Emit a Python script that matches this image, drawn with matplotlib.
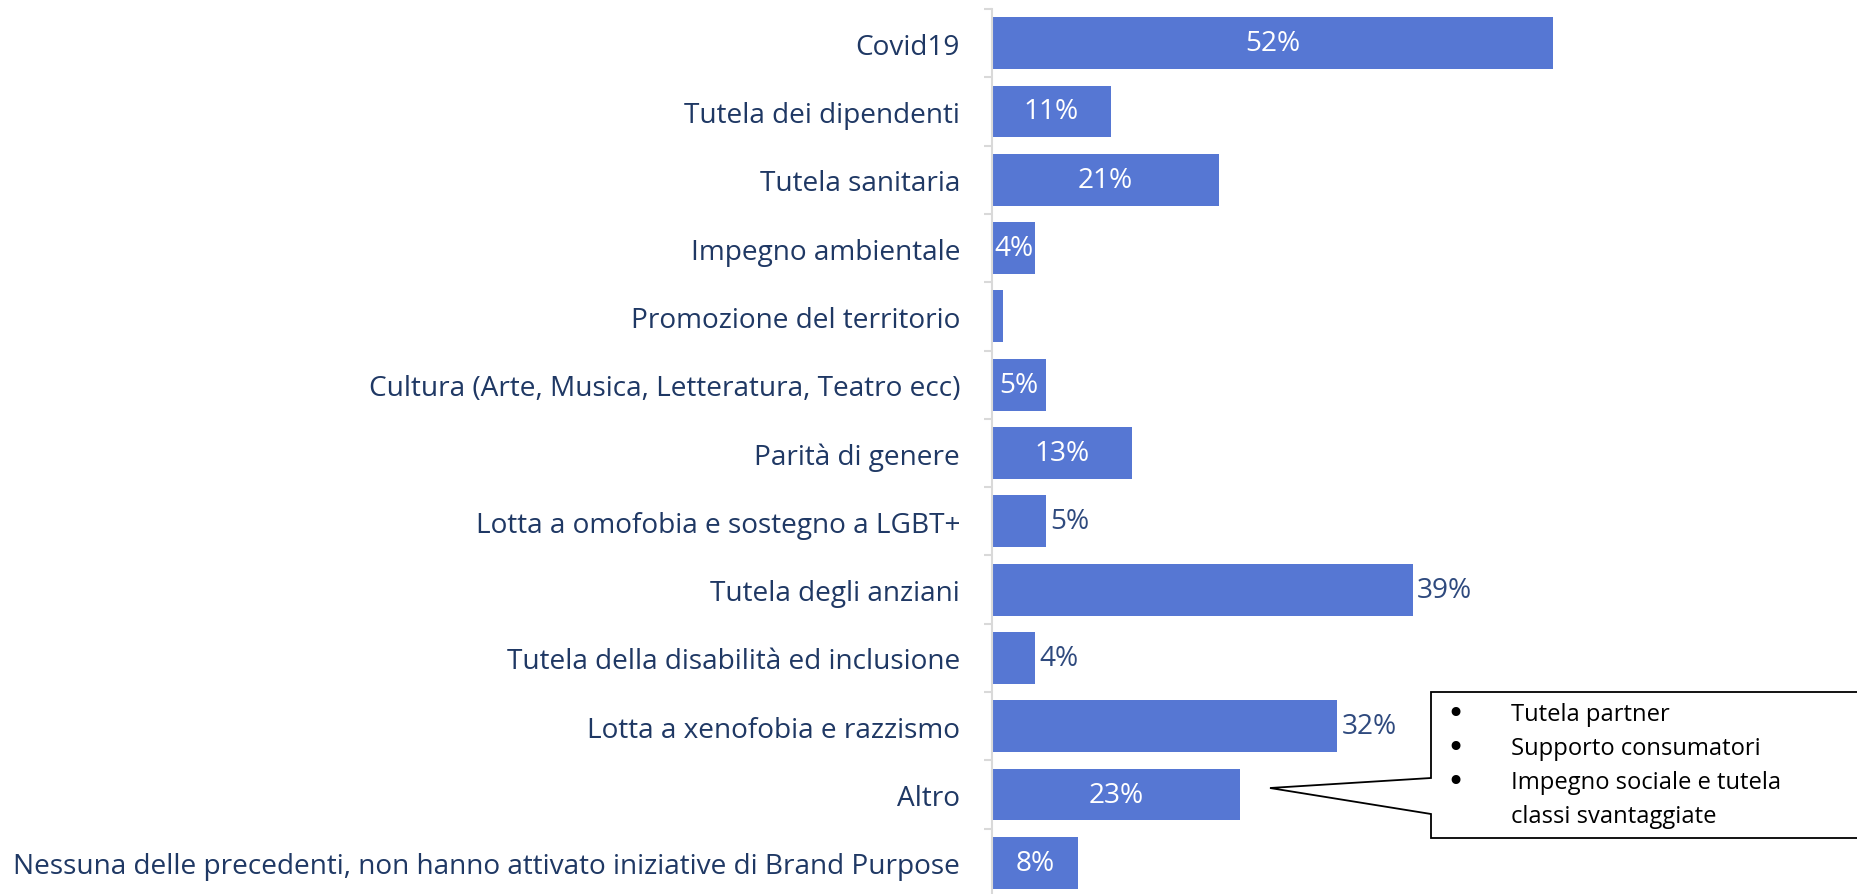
import numpy as np
import matplotlib
matplotlib.use("Agg")
import matplotlib.pyplot as plt
from matplotlib.patches import Polygon

plt.rcParams['font.family'] = ['Open Sans', 'DejaVu Sans']

categories = [
    "Covid19",
    "Tutela dei dipendenti",
    "Tutela sanitaria",
    "Impegno ambientale",
    "Promozione del territorio",
    "Cultura (Arte, Musica, Letteratura, Teatro ecc)",
    "Parità di genere",
    "Lotta a omofobia e sostegno a LGBT+",
    "Tutela degli anziani",
    "Tutela della disabilità ed inclusione",
    "Lotta a xenofobia e razzismo",
    "Altro",
    "Nessuna delle precedenti, non hanno attivato iniziative di Brand Purpose",
]
values = [52, 11, 21, 4, 1, 5, 13, 5, 39, 4, 32, 23, 8]
value_labels = ["52%", "11%", "21%", "4%", "", "5%", "13%", "5%", "39%", "4%", "32%", "23%", "8%"]
label_place = ["in", "in", "in", "in", None, "in", "in", "out", "out", "out", "out", "in", "in"]
callout_lines = ["Tutela partner", "Supporto consumatori", "Impegno sociale e tutela", "classi svantaggiate"]
callout_bullets = ["•", "•", "•", ""]

W, H = 1858, 895
fig = plt.figure(figsize=(W / 100, H / 100), dpi=100)

def fx(px):
    return px / W

def fy(py):
    return 1 - py / H

ax_left, ax_top, ax_bottom = 992, 10, 898
ax = fig.add_axes([fx(ax_left), fy(ax_bottom), 1 - fx(ax_left), (ax_bottom - ax_top) / H])

bar_color = "#5677D3"
navy = "#1F3864"
out_color = "#2F4A7E"
fs = 20.2
fs_box = 17.1

y = np.arange(len(categories))
ax.barh(y, values, height=0.76, color=bar_color)
ax.set_ylim(len(categories) - 0.5, -0.5)
ax.set_xlim(0, (W - ax_left) / 10.79)

for s in ["top", "right", "bottom"]:
    ax.spines[s].set_visible(False)
ax.spines["left"].set_color("#d9d9d9")
ax.spines["left"].set_linewidth(1.5)
ax.xaxis.set_visible(False)

ax.set_yticks(y)
ax.set_yticklabels(categories, fontsize=fs, color=navy)
ax.tick_params(axis="y", which="major", length=0, pad=23)
ax.set_yticks(np.arange(-0.5, len(categories), 1.0), minor=True)
ax.tick_params(axis="y", which="minor", length=6, width=1.5, color="#d9d9d9")

for yi, v, lab, place in zip(y, values, value_labels, label_place):
    if not lab or place is None:
        continue
    if place == "in":
        ax.text(v / 2, yi, lab, ha="center", va="center", color="white", fontsize=fs)
    else:
        ax.annotate(lab, (v, yi), xytext=(3, 0), textcoords="offset points",
                    ha="left", va="center", color=out_color, fontsize=fs)

# callout box
tip_x, tip_y = 1270, 789
bx0, by0, by1 = 1431, 693, 839
bxr = 1875
base0, base1 = 779, 815
poly = [(bx0, by0), (bxr, by0), (bxr, by1), (bx0, by1), (bx0, base1), (tip_x, tip_y), (bx0, base0)]
fig.add_artist(Polygon([(fx(px), fy(py)) for px, py in poly], closed=True,
                       transform=fig.transFigure, facecolor="white", edgecolor="black",
                       linewidth=1.3, clip_on=False))
line_y0, line_dy = 715, 34
for i, (b, t) in enumerate(zip(callout_bullets, callout_lines)):
    yy = fy(line_y0 + i * line_dy)
    if b:
        fig.text(fx(1455), yy, b, ha="center", va="center", fontsize=22, color="black",
                 family="DejaVu Sans")
    fig.text(fx(1511), yy, t, ha="left", va="center", fontsize=fs_box, color="black")

fig.savefig("out.png", dpi=100)
